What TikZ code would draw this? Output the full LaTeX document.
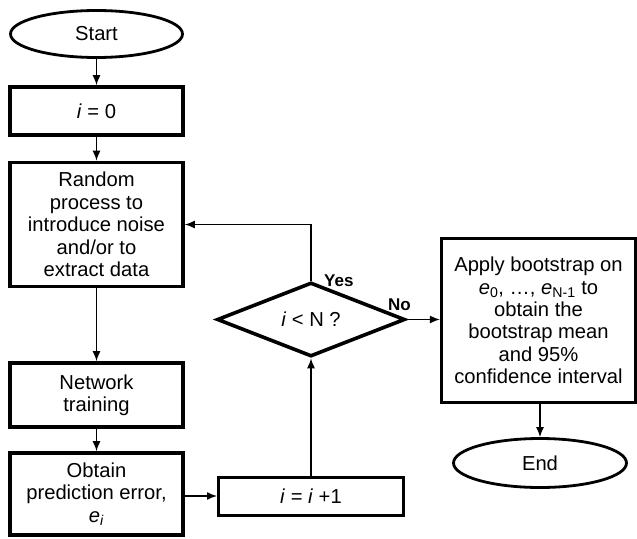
\documentclass[tikz,border=0pt]{standalone}
\usepackage{fontspec}
\setmainfont{Liberation Sans}
\usetikzlibrary{shapes.geometric,arrows.meta}

\tikzset{
  base/.style={font=\fontsize{20.2}{22.4}\selectfont, align=center, inner sep=0pt},
  procbox/.style={base, draw, line width=3.6pt, rectangle},
  termbox/.style={base, draw, line width=2.8pt, ellipse},
  decbox/.style={base, draw, line width=3.6pt, diamond},
  flow/.style={line width=1.4pt, -{Latex[length=10pt,width=8pt]}},
  tag/.style={font=\bfseries\fontsize{17}{19}\selectfont, inner sep=0pt}
}

\begin{document}
\begin{tikzpicture}[x=1pt, y=-1pt]
  \useasboundingbox (0,0) rectangle (637,538);

  % left column
  \node[termbox, minimum width=172pt, minimum height=47pt] (start) at (96.5,34) {Start};
  \node[procbox, minimum width=173pt, minimum height=48pt] (init) at (96.5,111) {\textit{i} = 0};
  \node[procbox, minimum width=173pt, minimum height=124pt] (rand) at (96.5,224.5)
    {Random\\process to\\introduce noise\\and/or to\\extract data};
  \node[procbox, minimum width=173pt, minimum height=64pt] (net) at (96.5,395)
    {Network\\training};
  \node[procbox, minimum width=173pt, minimum height=82pt] (obt) at (96.5,494)
    {Obtain\\prediction error,\\\textit{e}\textsubscript{\textit{i}}};

  % loop counter and test
  \node[procbox, line width=3pt, minimum width=185pt, minimum height=38pt] (inc) at (311,496)
    {\textit{i} = \textit{i} +1};
  \node[decbox, minimum width=188pt, minimum height=65pt] (dec) at (311,319.5)
    {\textit{i} < N ?};

  % right column
  \node[procbox, line width=3.2pt, minimum width=194pt, minimum height=164pt] (boot) at (538.5,320.5)
    {Apply bootstrap on\\\textit{e}\textsubscript{0}, \dots, \textit{e}\textsubscript{N-1} to\\obtain the\\bootstrap mean\\and 95\%\\confidence interval};
  \node[termbox, minimum width=173pt, minimum height=49pt] (end) at (540,463) {End};

  % connectors
  \draw[flow] (start) -- (init);
  \draw[flow] (init) -- (rand);
  \draw[flow] (rand) -- (net);
  \draw[flow] (net) -- (obt);
  \draw[flow] (obt.east |- inc.west) -- (inc.west);
  \draw[flow] (inc) -- (dec);
  \draw[flow] (dec.north) |- (rand.east);
  \draw[flow] (dec.east) -- (boot.west |- dec.east);
  \draw[flow] (boot.south -| end.north) -- (end.north);

  % branch labels
  \node[tag, anchor=west] (yes) at (324,281) {Yes};
  \node[tag, anchor=west] (no) at (388,305) {No};
\end{tikzpicture}
\end{document}
